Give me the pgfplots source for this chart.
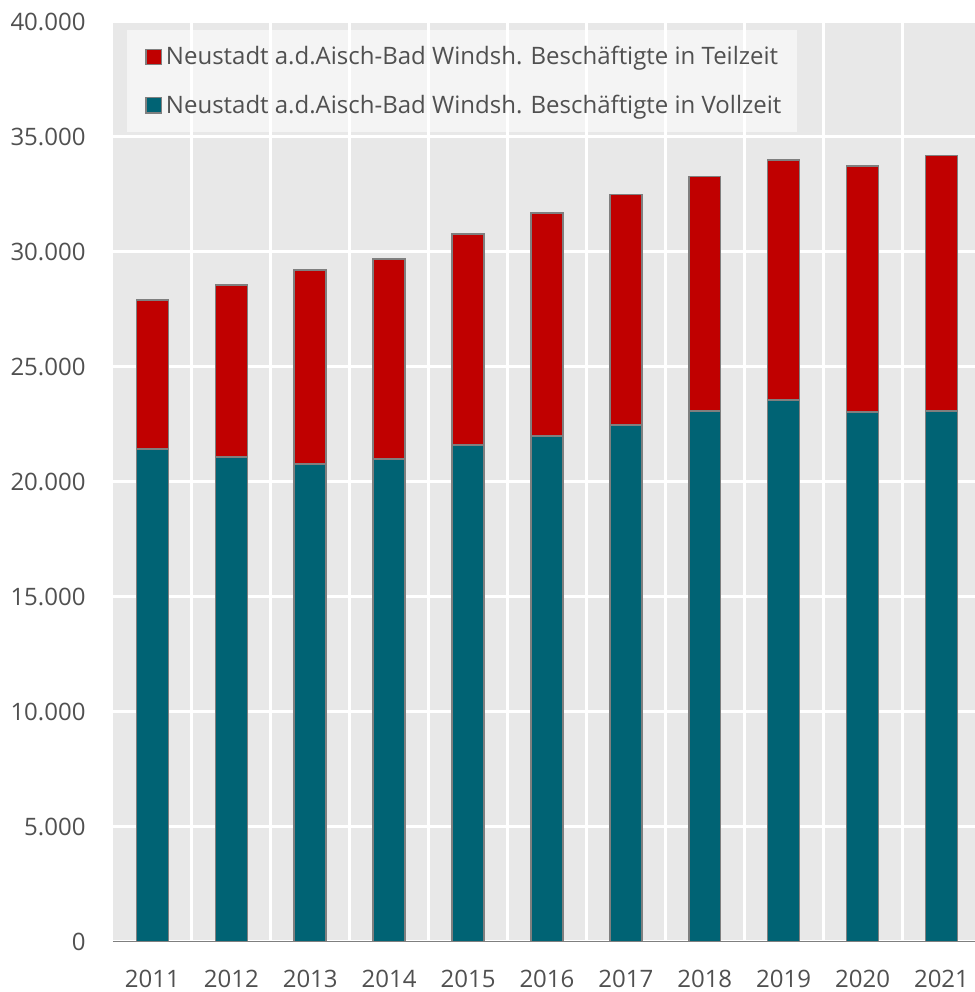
\documentclass[border=0pt]{standalone}
\usepackage{pgfplots}
\usepackage{pgfplotstable}
\pgfplotsset{compat=1.18}
\usepackage{fontspec}
\setmainfont{Open Sans}

\definecolor{teil}{HTML}{C00000}
\definecolor{voll}{HTML}{006374}
\definecolor{bg}{HTML}{E8E8E8}
\definecolor{txt}{HTML}{505050}
\definecolor{edge}{HTML}{7F7F7F}

% x = position, year, Vollzeit, Teilzeit
\pgfplotstableread{
x year voll teil
0 2011 21430 6480
1 2012 21080 7480
2 2013 20780 8440
3 2014 21000 8700
4 2015 21600 9180
5 2016 22000 9700
6 2017 22480 10020
7 2018 23070 10200
8 2019 23560 10440
9 2020 23040 10700
10 2021 23070 11120
}\data

\begin{document}
\begin{tikzpicture}
\begin{axis}[
    scale only axis,
    width=431pt, height=460pt,
    xmin=-0.5, xmax=10.42,
    ymin=0, ymax=40000,
    ybar stacked,
    bar width=0.405,
    axis background/.style={fill=bg},
    separate axis lines,
    axis x line*=bottom,
    axis y line*=left,
    x axis line style={draw=edge, line width=0.75pt},
    y axis line style={draw=none},
    major tick length=0pt, minor tick length=0pt,
    xtick={0,...,10},
    xticklabels from table={\data}{year},
    minor xtick={0.5,1.5,...,9.5},
    ytick={0,5000,...,40000},
    scaled y ticks=false,
    xminorgrids, ymajorgrids,
    major grid style={white, line width=1.5pt},
    minor grid style={white, line width=1.5pt},
    tick label style={font=\fontsize{12}{14}\selectfont, text=txt},
    yticklabel style={xshift=-10.2pt},
    xticklabel style={yshift=-10.5pt},
    /pgf/number format/.cd, 1000 sep={.}, assume math mode=true,
    /pgfplots/.cd,
    reverse legend,
    legend cell align=left,
    legend style={at={(0,1)}, anchor=north west, xshift=7pt, yshift=-4pt,
        fill=white, fill opacity=0.55, text opacity=1, draw=none,
        font=\fontsize{12}{14}\selectfont, text=txt,
        row sep=9.5pt, inner xsep=6pt, inner ysep=6pt},
]
\addplot[fill=voll, draw=edge, line width=0.75pt,
    legend image code/.code={\path (0pt,0pt);
        \draw[fill=voll, draw=edge, line width=0.7pt, fill opacity=1, draw opacity=1] (3pt,-3.8pt) rectangle (10.6pt,3.8pt);}]
    table[x=x, y=voll] {\data};
\addlegendentry{Neustadt a.d.Aisch-Bad Windsh. Beschäftigte in Vollzeit}
\addplot[fill=teil, draw=edge, line width=0.75pt,
    legend image code/.code={\path (0pt,0pt);
        \draw[fill=teil, draw=edge, line width=0.7pt, fill opacity=1, draw opacity=1] (3pt,-3.8pt) rectangle (10.6pt,3.8pt);}]
    table[x=x, y=teil] {\data};
\addlegendentry{Neustadt a.d.Aisch-Bad Windsh. Beschäftigte in Teilzeit}
\end{axis}
\pgfresetboundingbox
\path[use as bounding box] ([xshift=-56.5pt, yshift=-25.2pt]current axis.south west)
    rectangle ([yshift=11pt]current axis.north east);
\end{tikzpicture}
\end{document}
